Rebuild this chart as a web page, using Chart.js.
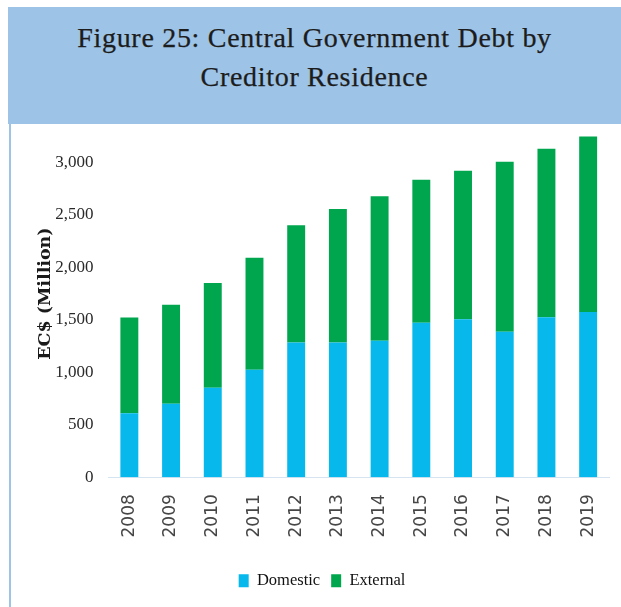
<!DOCTYPE html>
<html>
<head>
<meta charset="utf-8">
<script src="https://cdn.jsdelivr.net/npm/chart.js@4.4.1/dist/chart.umd.min.js"></script>
<style>
  html, body { margin: 0; padding: 0; background: #ffffff; }
  body { width: 621px; height: 607px; position: relative; overflow: hidden; }
  #frame-line {
    position: absolute; left: 9px; top: 7px; width: 2px; height: 600px;
    background: #9dc3e6;
  }
  #chart-box {
    position: absolute; left: 11px; top: 0; width: 610px; height: 607px;
  }
  #header {
    position: absolute; left: 8px; top: 7px; width: 613px; height: 117px;
    background: #9dc3e6; z-index: 2;
    box-sizing: border-box; padding-top: 11px;
    font-family: "Liberation Serif", "DejaVu Serif", serif;
    font-size: 28px; line-height: 39.4px; letter-spacing: 0.7px;
    color: #1c1c1c; text-align: center;
    -webkit-text-stroke: 0.25px #1c1c1c;
  }
</style>
</head>
<body>
<div id="frame-line"></div>
<div id="header">Figure 25: Central Government Debt by<br>Creditor Residence</div>
<div id="chart-box"><canvas id="debt"></canvas></div>
<script>
// Central government debt by creditor residence, EC$ millions
const years = ['2008', '2009', '2010', '2011', '2012', '2013',
               '2014', '2015', '2016', '2017', '2018', '2019'];
const domestic = [610, 700, 854, 1025, 1285, 1285, 1301, 1472, 1506, 1386, 1525, 1576];
const external = [912, 945, 997, 1066, 1117, 1272, 1376, 1364, 1415, 1620, 1605, 1671];
const yTicks = [0, 500, 1000, 1500, 2000, 2500, 3000, 3500];

const serif = '"Liberation Serif", "DejaVu Serif", serif';

new Chart(document.getElementById('debt'), {
  type: 'bar',
  data: {
    labels: years,
    datasets: [
      { label: 'Domestic', data: domestic, backgroundColor: '#06b8ec', borderWidth: 0 },
      { label: 'External', data: external, backgroundColor: '#00a64e', borderWidth: 0 }
    ]
  },
  options: {
    responsive: true,
    maintainAspectRatio: false,
    animation: false,
    layout: { padding: { top: 110, right: 12, bottom: 8, left: 24 } },
    datasets: { bar: { categoryPercentage: 1, barPercentage: 0.43 } },
    plugins: {
      tooltip: { enabled: false },
      legend: {
        position: 'bottom',
        labels: {
          boxWidth: 10, boxHeight: 13, padding: 11,
          color: '#111111',
          font: { family: serif, size: 16.5 }
        }
      }
    },
    scales: {
      x: {
        stacked: true,
        grid: { display: false, drawTicks: false },
        border: { display: true, color: '#d6e4f1', width: 1 },
        ticks: {
          minRotation: 90, maxRotation: 90, padding: 17,
          color: '#464646',
          font: { family: '"DejaVu Sans", sans-serif', size: 17, lineHeight: 0.5 }
        },
        // extra room between the year labels and the legend
        afterFit: (scale) => { scale.height += 7; }
      },
      y: {
        stacked: true,
        min: 0, max: 3500,
        afterBuildTicks: (axis) => { axis.ticks = yTicks.map(v => ({ value: v })); },
        grid: { display: false, drawTicks: false },
        border: { display: false },
        ticks: {
          padding: 15,
          color: '#2a2a2a',
          font: { family: serif, size: 17 },
          callback: (v) => v.toLocaleString('en-US')
        },
        title: {
          display: true,
          text: 'EC$ (Million)',
          color: '#1a1a1a',
          font: { family: '"DejaVu Serif", serif', size: 17.5, weight: 'bold' },
          padding: { top: 0, bottom: -15.75 }
        }
      }
    }
  }
});
</script>
</body>
</html>
